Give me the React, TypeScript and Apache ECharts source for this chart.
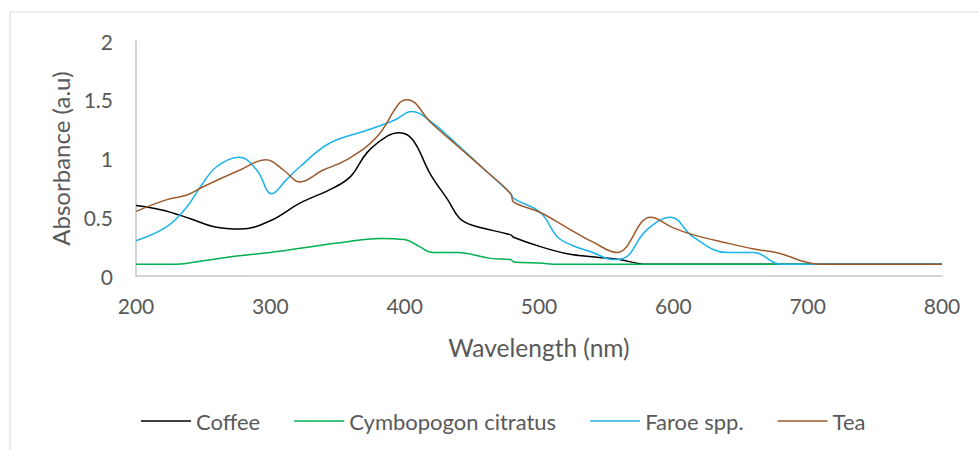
import React, { useEffect, useRef } from "react";
import * as echarts from "echarts";

const seriesNames = ["Coffee", "Cymbopogon citratus", "Faroe spp.", "Tea"];
const seriesColors = ["#000000", "#00b050", "#1ab3ec", "#9e5a2c"];

const coffeeX = [200, 220, 240, 258, 278, 300, 322, 347, 360, 372, 387, 396, 406, 419, 432, 441, 451, 479, 481, 501, 521, 543, 560, 580, 600, 700, 800];
const coffeeY = [0.60, 0.56, 0.49, 0.42, 0.40, 0.47, 0.62, 0.75, 0.85, 1.05, 1.19, 1.22, 1.16, 0.87, 0.65, 0.49, 0.43, 0.35, 0.33, 0.25, 0.19, 0.16, 0.14, 0.10, 0.10, 0.10, 0.10];

const cymboX = [200, 230, 250, 275, 300, 325, 350, 382, 400, 411, 421, 439, 464, 479, 481, 500, 515, 560, 600, 700, 800];
const cymboY = [0.10, 0.10, 0.13, 0.17, 0.20, 0.24, 0.28, 0.32, 0.31, 0.25, 0.20, 0.20, 0.15, 0.14, 0.12, 0.11, 0.10, 0.10, 0.10, 0.10, 0.10];

const faroeX = [200, 223, 238, 248, 260, 277, 290, 301, 312, 322, 344, 372, 393, 405, 420, 440, 460, 479, 481, 501, 514, 525, 540, 555, 563, 580, 598, 615, 640, 660, 680, 700, 800];
const faroeY = [0.30, 0.42, 0.59, 0.76, 0.93, 1.01, 0.90, 0.70, 0.82, 0.93, 1.13, 1.24, 1.33, 1.40, 1.31, 1.11, 0.90, 0.70, 0.66, 0.54, 0.33, 0.26, 0.20, 0.14, 0.15, 0.39, 0.50, 0.33, 0.20, 0.20, 0.10, 0.10, 0.10];

const teaX = [200, 223, 238, 250, 277, 297, 310, 322, 339, 357, 379, 396, 402, 420, 440, 460, 479, 481, 501, 521, 540, 558, 583, 600, 615, 640, 660, 680, 695, 708, 800];
const teaY = [0.55, 0.65, 0.69, 0.76, 0.90, 0.99, 0.90, 0.80, 0.90, 0.99, 1.18, 1.47, 1.50, 1.30, 1.10, 0.90, 0.70, 0.63, 0.54, 0.41, 0.29, 0.20, 0.50, 0.41, 0.35, 0.28, 0.23, 0.19, 0.13, 0.10, 0.10];

const allX = [coffeeX, cymboX, faroeX, teaX];
const allY = [coffeeY, cymboY, faroeY, teaY];

const FONT = "Lato";
const TEXT_COLOR = "#595959";

export default function App() {
  const ref = useRef<HTMLDivElement>(null);
  useEffect(() => {
    if (!ref.current) return;
    const chart = echarts.init(ref.current, null, { renderer: "svg" });
    chart.setOption({
      animation: false,
      backgroundColor: "#ffffff",
      graphic: [
        {
          type: "rect",
          shape: { x: 10, y: 12, width: 1000, height: 500 },
          style: { fill: "none", stroke: "#d9d9d9", lineWidth: 1 },
          silent: true,
        },
      ],
      grid: { left: 136, right: 36, top: 41, bottom: 174 },
      legend: {
        left: 136,
        top: 405,
        icon: "rect",
        itemWidth: 50,
        itemHeight: 1.5,
        itemGap: 34,
        data: seriesNames,
        textStyle: { fontFamily: FONT, fontSize: 22, color: TEXT_COLOR },
      },
      xAxis: {
        type: "value",
        min: 200,
        max: 800,
        interval: 100,
        name: "Wavelength (nm)",
        nameLocation: "middle",
        nameGap: 59,
        nameTextStyle: { fontFamily: FONT, fontSize: 24.5, color: TEXT_COLOR },
        axisLine: { show: true, lineStyle: { color: "#c8c8c8", width: 1.5 } },
        axisTick: { show: false },
        splitLine: { show: false },
        axisLabel: { fontFamily: FONT, fontSize: 21, color: TEXT_COLOR, margin: 19 },
      },
      yAxis: {
        type: "value",
        min: 0,
        max: 2,
        interval: 0.5,
        name: "Absorbance (a.u)",
        nameLocation: "middle",
        nameGap: 62,
        nameTextStyle: { fontFamily: FONT, fontSize: 24, color: TEXT_COLOR },
        axisLine: { show: true, lineStyle: { color: "#c8c8c8", width: 1.5 } },
        axisTick: { show: false },
        splitLine: { show: false },
        axisLabel: { fontFamily: FONT, fontSize: 21, color: TEXT_COLOR, margin: 23 },
      },
      series: seriesNames.map((name, i) => ({
        name,
        type: "line",
        smooth: 0.4,
        symbol: "none",
        lineStyle: { color: seriesColors[i], width: 1.5 },
        itemStyle: { color: seriesColors[i] },
        data: allX[i].map((x, j) => [x, allY[i][j]]),
      })),
    });
    return () => chart.dispose();
  }, []);
  return (
    <div
      ref={ref}
      style={{ position: "absolute", left: 0, top: 0, width: 978, height: 450 }}
    />
  );
}
